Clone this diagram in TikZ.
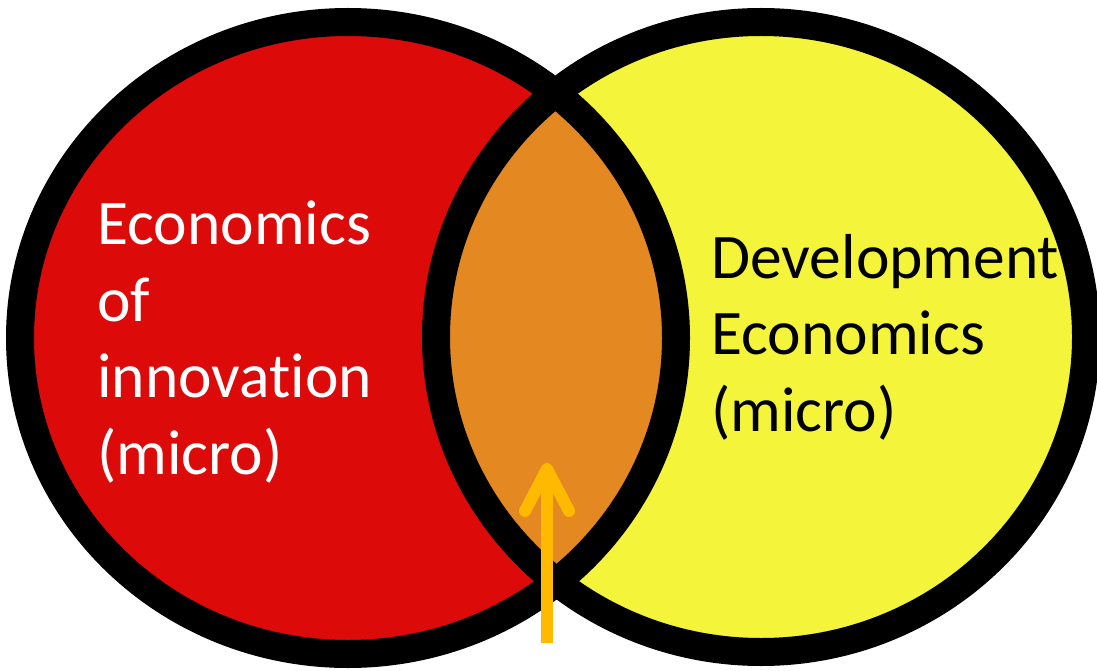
\documentclass[tikz,border=0pt]{standalone}
\usepackage{fontspec}
\setmainfont{Carlito}[Ligatures=NoCommon]
\usepackage{tikz}
\usetikzlibrary{arrows.meta}
\definecolor{innov}{RGB}{221, 10, 10}
\definecolor{devel}{RGB}{244, 244, 58}
\definecolor{overlap}{RGB}{228, 136, 33}
\definecolor{pointer}{RGB}{255, 186, 0}

\begin{document}
\begin{tikzpicture}[x=1pt, y=-1pt, thick,
    label/.style={align=left, anchor=base west, inner sep=0pt,
      font=\fontsize{63.5}{76.5}\selectfont}]
  \useasboundingbox (0, 0) rectangle (1097, 671);

  \fill[color=innov] (348, 338) ellipse [x radius=328, y radius=316];
  \fill[color=devel] (761, 337) ellipse [x radius=325, y radius=315];

  \begin{scope}
  \clip (348, 338) ellipse [x radius=328, y radius=316];
  \fill[color=overlap] (761, 337) ellipse [x radius=325, y radius=315];
  \end{scope}

  \draw[line width=28pt] (348, 338) ellipse [x radius=328, y radius=316];
  \draw[line width=28pt] (761, 337) ellipse [x radius=325, y radius=315];

  % base anchor sits on the last line
  \node[label, text=white] (innovtext) at (97, 474)
    {Economics\\of\\innovation\\(micro)};
  \node[label, text=black] (develtext) at (711, 431)
    {Development\\Economics\\(micro)};

  \coordinate (foot) at (547, 643);
  \coordinate (tip) at (547, 463);
  \draw[line width=12pt, color=pointer,
    -{Straight Barb[length=42pt, width=44pt, round]}] (foot) -- (tip);
\end{tikzpicture}
\end{document}
